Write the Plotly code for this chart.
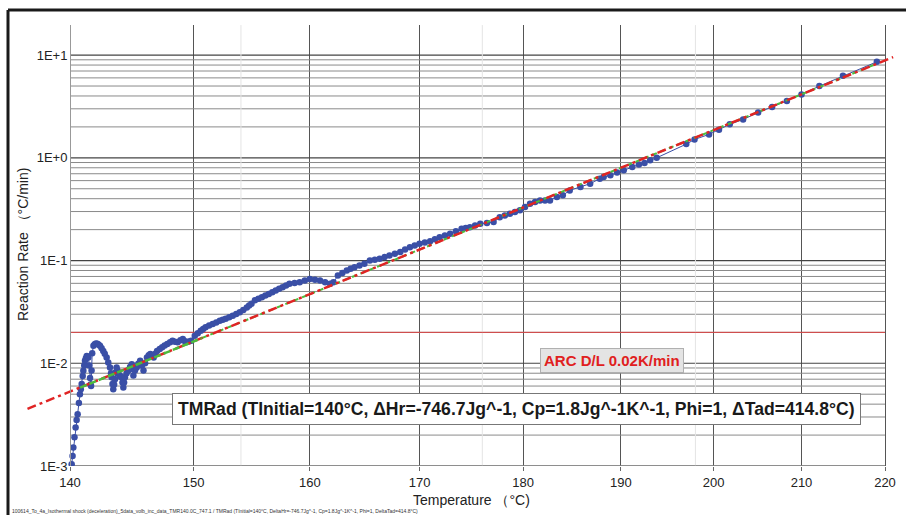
import plotly.graph_objects as go

# ---------------- data ----------------
blue_T = [140.13, 140.2, 140.26, 140.35, 140.44, 140.52, 140.6, 140.7, 140.78, 140.85, 140.92, 141.0,
          141.05, 141.12, 141.18, 141.25, 141.32, 141.4, 141.45, 141.52, 141.58, 141.62, 141.66, 141.7,
          141.75, 141.85, 141.95, 142.05, 142.15, 142.25, 142.37, 142.5, 142.63, 142.75, 142.9, 143.03,
          143.17, 143.25, 143.3, 143.37, 143.43, 143.5, 143.57, 143.63, 143.7, 143.77, 143.84, 143.95,
          144.05, 144.1, 144.17, 144.24, 144.3, 144.37, 144.5, 144.64, 144.78, 144.92, 145.0, 145.05,
          145.18, 145.32, 145.45, 145.6, 145.72, 145.87, 146.0, 146.15, 146.3, 146.43, 146.57, 146.7,
          146.84, 146.98, 147.2, 147.4, 147.6, 147.82, 148.05, 148.25, 148.45, 148.67, 148.9, 149.1,
          149.25, 149.4, 149.6, 149.8, 150.1, 150.35, 150.6, 150.8, 151.0, 151.3, 151.6, 151.9, 152.2,
          152.45, 152.7, 153.0, 153.3, 153.6, 153.9, 154.2, 154.5, 154.7, 154.9, 155.2, 155.5, 155.8,
          156.1, 156.4, 156.7, 157.0, 157.3, 157.6, 157.9, 158.2, 158.65, 159.1, 159.55, 160.0, 160.45,
          160.9, 161.35, 161.8, 162.1, 162.5, 162.9, 163.3, 163.65, 164.0, 164.45, 164.9, 165.4, 165.85,
          166.3, 166.75, 167.2, 167.7, 168.2, 168.65, 169.1, 169.55, 170.0, 170.5, 171.0, 171.45, 171.9,
          172.4, 172.9, 173.45, 174.0, 174.4, 174.8, 175.3, 175.8, 176.45, 177.1, 177.7, 178.2, 178.7,
          179.2, 179.7, 180.2, 180.7, 181.2, 181.7, 182.2, 182.7, 183.4, 184.0, 184.7, 185.8, 186.8,
          187.8, 188.2, 188.9, 189.6, 190.3, 191.2, 191.9, 192.5, 193.1, 193.8, 197.0, 197.9, 199.5,
          200.6, 201.8, 203.3, 205.0, 206.6, 208.3, 210.0, 212.1, 214.9, 219.0]
blue_rate = [0.00104, 0.00125, 0.00151, 0.0019, 0.00237, 0.0028, 0.00319, 0.0041, 0.0050, 0.0056, 0.00627,
             0.0075, 0.00845, 0.0095, 0.01057, 0.0112, 0.0118, 0.0116, 0.0114, 0.0095, 0.0072, 0.0062,
             0.0060, 0.0085, 0.0125, 0.0148, 0.0153, 0.0156, 0.0155, 0.0152, 0.0148, 0.0140, 0.0132,
             0.0124, 0.0114, 0.0102, 0.0091, 0.0080, 0.0073, 0.0063, 0.0056, 0.0062, 0.0070, 0.0082,
             0.0091, 0.0085, 0.0079, 0.0076, 0.0074, 0.0073, 0.0065, 0.0058, 0.0065, 0.0073, 0.0080,
             0.0085, 0.0092, 0.0098, 0.0088, 0.0076, 0.0085, 0.0091, 0.0099, 0.0106, 0.0095, 0.0085,
             0.0100, 0.0114, 0.0120, 0.0123, 0.0118, 0.0114, 0.0124, 0.0132, 0.0138, 0.0143, 0.0149,
             0.0154, 0.0160, 0.0166, 0.0162, 0.0160, 0.0168, 0.0172, 0.0165, 0.0160, 0.0163, 0.0166,
             0.0185, 0.0196, 0.0207, 0.0216, 0.0224, 0.0233, 0.0241, 0.0250, 0.0260, 0.0266, 0.0271,
             0.0280, 0.0290, 0.0301, 0.0313, 0.0331, 0.0350, 0.0365, 0.0380, 0.0410, 0.0425, 0.0439,
             0.0456, 0.0473, 0.0491, 0.0510, 0.0530, 0.0550, 0.0572, 0.0593, 0.0604, 0.0614, 0.0638,
             0.0662, 0.0650, 0.0638, 0.0615, 0.0593, 0.0614, 0.0714, 0.0756, 0.0798, 0.083, 0.086,
             0.0895, 0.093, 0.100, 0.102, 0.104, 0.108, 0.112, 0.1165, 0.121, 0.128, 0.135, 0.1405,
             0.146, 0.150, 0.154, 0.1615, 0.169, 0.1755, 0.182, 0.193, 0.204, 0.2075, 0.211, 0.2195,
             0.228, 0.2325, 0.237, 0.264, 0.275, 0.286, 0.297, 0.308, 0.3325, 0.357, 0.371, 0.385,
             0.385, 0.385, 0.415, 0.431, 0.482, 0.519, 0.56, 0.627, 0.65, 0.675, 0.72, 0.755, 0.813,
             0.859, 0.891, 0.946, 1.00, 1.36, 1.51, 1.69, 1.88, 2.12, 2.36, 2.76, 3.13, 3.58, 4.14,
             4.99, 6.28, 8.6]

fit_T = [136.7, 221.0]            # red dash-dot fit line
fit_rate = [0.0036, 9.55]
green_low_T = [140.8, 150.7]      # green dashed fit segments
green_low_rate = [0.0058, 0.0176]
green_high_T = [150.7, 219.0]
green_high_rate = [0.0176, 8.24]
arc_limit = 0.02                  # ARC detection limit (K/min)

x_ticks = [140, 150, 160, 170, 180, 190, 200, 210, 220]
x_tick_text = [str(t) for t in x_ticks]
faint_x = [154, 176, 198]
y_major = [0.001, 0.01, 0.1, 1, 10]
y_major_text = ["1E-3", "1E-2", "1E-1", "1E+0", "1E+1"]

# ---------------- axis transform (reciprocal temperature scale) ----------------
C = 178.2
def ku(T):
    return (1 / (140 + C) - 1 / (T + C)) / (1 / (140 + C) - 1 / (220 + C)) * 80

def kus(vals):
    return [ku(v) for v in vals]

W, H = 906, 515
ML, MR, MT, MB = 0, 0, 25, 49
PX140, PX220 = 70, 885
scale = (PX220 - PX140) / 80.0
x_range = [-(PX140 - ML) / scale, 80 + (W - MR - PX220) / scale]
ph = H - MT - MB

def py(p):  # pixel y -> paper y
    return (H - MB - p) / ph

FONT = "Liberation Sans, Arial, sans-serif"
fig = go.Figure()

# horizontal grid lines (minor / major), limited to the 140-220 span
xl, xr = ku(140), ku(220)
gx_min, gy_min, gx_maj, gy_maj = [], [], [], []
for d in y_major:
    gx_maj += [xl, xr, None]
    gy_maj += [d, d, None]
    if d < 10:
        for m in range(2, 10):
            gx_min += [xl, xr, None]
            gy_min += [d * m, d * m, None]
fig.add_trace(go.Scatter(x=gx_min, y=gy_min, mode="lines", line=dict(color="#8a8a8a", width=1),
                         hoverinfo="skip", showlegend=False))
fig.add_trace(go.Scatter(x=gx_maj, y=gy_maj, mode="lines", line=dict(color="#444444", width=1.2),
                         hoverinfo="skip", showlegend=False))
# faint vertical lines
fx, fy = [], []
for t in faint_x:
    fx += [ku(t), ku(t), None]
    fy += [0.001, 19.6, None]
fig.add_trace(go.Scatter(x=fx, y=fy, mode="lines", line=dict(color="#e4e4e4", width=1),
                         hoverinfo="skip", showlegend=False))
# ARC detection limit
fig.add_trace(go.Scatter(x=[xl, xr], y=[arc_limit, arc_limit], mode="lines",
                         line=dict(color="#d84040", width=1), hoverinfo="skip", showlegend=False))
# x-axis base line
fig.add_trace(go.Scatter(x=[xl, xr], y=[0.001, 0.001], mode="lines", cliponaxis=False,
                         line=dict(color="#888888", width=1.5), hoverinfo="skip", showlegend=False))

# data
fig.add_trace(go.Scatter(x=kus(blue_T), y=blue_rate, mode="lines+markers",
                         line=dict(color="#3a4fa6", width=1),
                         marker=dict(color="#3a4fa6", size=6.5), showlegend=False))
fig.add_trace(go.Scatter(x=kus(green_high_T), y=green_high_rate, mode="lines",
                         line=dict(color="#4cbc3c", width=2, dash="5px,4px"), showlegend=False))
fig.add_trace(go.Scatter(x=kus(fit_T), y=fit_rate, mode="lines",
                         line=dict(color="#e02424", width=2.5, dash="9px,4px,3px,4px"), showlegend=False))
fig.add_trace(go.Scatter(x=kus(green_low_T), y=green_low_rate, mode="lines",
                         line=dict(color="#4cbc3c", width=2.5, dash="7px,3px"), showlegend=False))

fig.update_layout(
    width=W, height=H, margin=dict(l=ML, r=MR, t=MT, b=MB),
    paper_bgcolor="white", plot_bgcolor="white",
    font=dict(family=FONT, color="#222222", size=13),
    xaxis=dict(range=x_range, tickvals=kus(x_ticks), ticktext=x_tick_text, showgrid=True,
               gridcolor="#555555", gridwidth=1, zeroline=False, showline=False,
               ticks="outside", ticklen=4, tickcolor="#666666", tickfont=dict(size=13)),
    yaxis=dict(type="log", range=[-3, 1.293], anchor="free", position=PX140 / W,
               tickvals=y_major, ticktext=y_major_text, showgrid=False, zeroline=False,
               showline=True, linecolor="#999999", linewidth=1, ticks="", tickfont=dict(size=13)),
)

annotations = [
    dict(text="<b>TMRad (TInitial=140°C, ΔHr=-746.7Jg^-1, Cp=1.8Jg^-1K^-1, Phi=1, ΔTad=414.8°C)</b>",
         x=516 / W, y=py(409), xref="paper", yref="paper", xanchor="center", yanchor="middle",
         showarrow=False, font=dict(size=17.6, color="#1a1a1a", family=FONT), bgcolor="white",
         bordercolor="#777777", borderwidth=1, borderpad=5),
    dict(text="<b>ARC D/L 0.02K/min</b>", x=612 / W, y=py(360), xref="paper", yref="paper",
         xanchor="center", yanchor="middle",
         showarrow=False, font=dict(size=15, color="#e02020", family=FONT), bgcolor="#e4e4e4",
         bordercolor="#b0b0b0", borderwidth=1, borderpad=3),
    dict(text="Temperature （°C)", x=471 / W, y=py(500), xref="paper", yref="paper",
         xanchor="center", yanchor="middle",
         showarrow=False, font=dict(size=14, color="#222222", family=FONT)),
    dict(text="Reaction Rate （°C/min)", x=23 / W, y=py(245), xref="paper", yref="paper",
         xanchor="center", yanchor="middle",
         textangle=-90, showarrow=False, font=dict(size=14, color="#222222", family=FONT)),
    dict(text="100614_To_4a_Isothermal shock (deceleration)_5data_volb_inc_data_TMR140.0C_747.1 / "
              "TMRad (TInitial=140°C, DeltaHr=-746.7Jg^-1, Cp=1.8Jg^-1K^-1, Phi=1, DeltaTad=414.8°C)",
         x=10 / W, y=py(511), xref="paper", yref="paper", xanchor="left", yanchor="middle",
         showarrow=False, font=dict(size=5, color="#333333", family=FONT)),
]
fig.update_layout(annotations=annotations)

# outer frame (top and left edges)
fig.add_shape(type="line", xref="paper", yref="paper", x0=8 / W, x1=1.0, y0=py(10), y1=py(10),
              line=dict(color="#1a1a1a", width=3))
fig.add_shape(type="line", xref="paper", yref="paper", x0=8 / W, x1=8 / W, y0=py(10), y1=py(515),
              line=dict(color="#1a1a1a", width=3))

fig.write_html("out.html")
